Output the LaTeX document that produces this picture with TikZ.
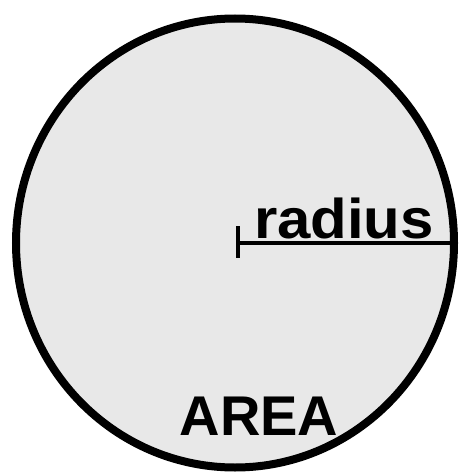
\documentclass[tikz,border=0pt]{standalone}
\usepackage[dvipsnames,svgnames,x11names]{xcolor}
\usepackage{fontspec}
\usepackage{tikz}
\usetikzlibrary{calc, positioning}
\usetikzlibrary{shapes.geometric}
\newfontfamily\arialbold{Liberation Sans Bold}

\begin{document}
\begin{tikzpicture}[x=1pt, y=-1pt,
    disk/.style={ellipse, draw, line width=8pt, fill=black!9, inner sep=0pt},
    radiusline/.style={line width=3.5pt},
    bigtext/.style={font=\arialbold\fontsize{56}{56}\selectfont, inner sep=0pt, anchor=base},
    ]
    \useasboundingbox (0,0) rectangle (458,473);
    \node [disk, minimum width=438pt, minimum height=449pt] (area) at (235,243) {};
    \coordinate (centre) at (238,243);
    \draw [radiusline] (centre) -- (area.east);
    \draw [radiusline] ($(centre)+(0,-17)$) -- ($(centre)+(0,15)$);
    \node [bigtext, xscale=1.07] (radius) at (344,238) {radius};
    \node [bigtext] (arealabel) at (259,435) {AREA};
    \end{tikzpicture}
\end{document}
